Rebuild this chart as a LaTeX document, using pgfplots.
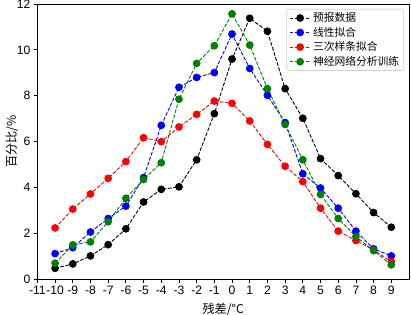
\documentclass[border=0pt]{standalone}
\usepackage{fontspec}
\setmainfont{Liberation Sans}
\newfontfamily\cjk{Noto Sans CJK SC}
\usepackage{pgfplots}
\pgfplotsset{compat=1.18}
\definecolor{mplgreen}{RGB}{0,128,0}
\begin{document}
\begin{tikzpicture}
\begin{axis}[
  at={(0,0)}, anchor=south west,
  scale only axis,
  width=371.6bp, height=275.3bp,
  xmin=-11, xmax=10,
  ymin=0, ymax=12,
  xtick={-11,...,9},
  ytick={0,2,...,12},
  /pgf/number format/assume math mode=true,
  tick align=outside,
  tick pos=left,
  major tick length=3.5bp,
  every tick/.style={black, line width=0.8pt},
  axis line style={line width=0.8pt},
  ticklabel style={font=\fontsize{12.2}{14}\selectfont},
  xlabel={\fontsize{12.2}{14}\selectfont\cjk 残差/°C},
  ylabel={\fontsize{12.2}{14}\selectfont\cjk 百分比/\%},
  xlabel style={yshift=-2bp},
  ylabel style={yshift=-8bp},
  legend style={at={(0.9865,0.982)}, anchor=north east,
    draw=black!18, rounded corners=2bp, line width=0.6pt,
    font=\fontsize{10.8}{13}\selectfont\cjk, row sep=0bp,
    inner xsep=2.5bp, inner ysep=1.5bp},
  legend cell align=left,
  legend image code/.code={
    \draw[mark repeat=2,mark phase=2,#1] plot coordinates {(0bp,0bp) (10.5bp,0bp) (21bp,0bp)};
  },
  every axis plot/.append style={line width=0.9pt, dash pattern=on 3.7bp off 1.6bp, mark=*, mark size=3.4bp},
]
\addplot[black, mark options={solid, fill=black}] coordinates {
(-10,0.48) (-9,0.67) (-8,1.02) (-7,1.51) (-6,2.20) (-5,3.37) (-4,3.92) (-3,4.03) (-2,5.21)
(-1,7.22) (0,9.60) (1,11.38) (2,10.81) (3,8.31) (4,7.02) (5,5.26) (6,4.52) (7,3.73) (8,2.91) (9,2.27)};
\addlegendentry{预报数据}
\addplot[blue, mark options={solid, fill=blue}] coordinates {
(-10,1.12) (-9,1.38) (-8,2.06) (-7,2.65) (-6,3.19) (-5,4.43) (-4,6.71) (-3,8.37) (-2,8.80)
(-1,9.01) (0,10.69) (1,9.19) (2,8.02) (3,6.83) (4,4.60) (5,3.98) (6,3.10) (7,2.10) (8,1.33) (9,1.02)};
\addlegendentry{线性拟合}
\addplot[red, mark options={solid, fill=red}] coordinates {
(-10,2.24) (-9,3.06) (-8,3.72) (-7,4.40) (-6,5.13) (-5,6.17) (-4,6.00) (-3,6.64) (-2,7.19)
(-1,7.77) (0,7.67) (1,6.90) (2,5.88) (3,4.93) (4,4.26) (5,3.10) (6,2.10) (7,1.69) (8,1.28) (9,0.77)};
\addlegendentry{三次样条拟合}
\addplot[mplgreen, mark options={solid, fill=mplgreen}] coordinates {
(-10,0.70) (-9,1.50) (-8,1.63) (-7,2.51) (-6,3.53) (-5,4.35) (-4,5.08) (-3,7.85) (-2,9.41)
(-1,10.18) (0,11.57) (1,10.21) (2,8.31) (3,6.75) (4,5.21) (5,3.70) (6,2.65) (7,1.86) (8,1.25) (9,0.63)};
\addlegendentry{神经网络分析训练}
\end{axis}
\pgfresetboundingbox
\path (-37.4bp,-35.7bp) rectangle (373.6bp,279.3bp);
\end{tikzpicture}
\end{document}
